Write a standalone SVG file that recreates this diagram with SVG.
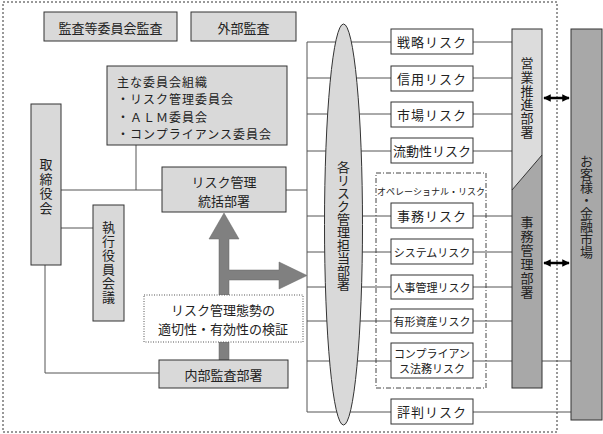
<svg xmlns="http://www.w3.org/2000/svg" width="603" height="434" viewBox="0 0 603 434">
<style>
text{font-family:"Noto Sans CJK JP","Noto Sans",sans-serif;font-size:13px;fill:#222;}
.box{fill:#d9d9d9;stroke:#333;stroke-width:1;}
.rbox{fill:#fff;stroke:#333;stroke-width:1;}
.ln{stroke:#555;stroke-width:1;fill:none;}
.c{text-anchor:middle;dominant-baseline:central;}
.v{writing-mode:vertical-rl;text-anchor:middle;}
.sm{font-size:11px;}
.li{font-size:12px;letter-spacing:1px;dominant-baseline:central;}
</style>
<defs>
<marker id="ah" viewBox="0 0 10 10" refX="9" refY="5" markerWidth="3" markerHeight="3.4" orient="auto-start-reverse">
<path d="M0,0 L10,5 L0,10 z" fill="#000"/>
</marker>
</defs>
<rect width="603" height="434" fill="#fff"/>
<!-- outer dashed border -->
<path d="M557,2 L3,2 L3,432 L557,432 L557,2" fill="none" stroke="#333" stroke-width="1" stroke-dasharray="2,2"/>

<g id="connectors">
<path class="ln" d="M61,190 H162 M136,145 V190 M286,190 H307 M61,228 H93 M45,265 V373 H159"/>
<path class="ln" d="M307,42 V412"/>
<path class="ln" d="M307,42 H391 M473,42 H512 M307,78 H391 M473,78 H512 M307,114 H391 M473,114 H512 M307,151 H391 M473,151 H512 M307,216 H391 M473,216 H512 M307,252 H391 M473,252 H512 M307,287 H391 M473,287 H512 M307,321 H391 M473,321 H512 M307,361 H391 M473,361 H512 M542,361 H571 M307,412 H391 M473,412 H571"/>
<line x1="544" y1="98" x2="569" y2="98" stroke="#000" stroke-width="2.5" marker-start="url(#ah)" marker-end="url(#ah)"/>
<line x1="544" y1="263" x2="569" y2="263" stroke="#000" stroke-width="2.5" marker-start="url(#ah)" marker-end="url(#ah)"/>
<polygon points="219,360 219,239 209,239 224,213 239,239 229,239 229,270 279,270 279,262 307,275.5 279,289 279,280 229,280 229,360" fill="#808080" stroke="#666" stroke-width="0.5"/>
</g>

<g id="kansatou"><rect class="box" x="44" y="12" width="133" height="29"/><text class="c" x="110.5" y="27">監査等委員会監査</text></g>
<g id="gaibu"><rect class="box" x="191" y="12" width="105" height="29"/><text class="c" x="243.5" y="27">外部監査</text></g>
<g id="iinkai"><rect class="box" x="107" y="66" width="180" height="79"/>
<text class="li" x="117" y="81">主な委員会組織</text>
<text class="li" x="117" y="98.5">・リスク管理委員会</text>
<text class="li" x="117" y="116">・ＡＬＭ委員会</text>
<text class="li" x="117" y="133.5">・コンプライアンス委員会</text></g>
<g id="torishimari"><rect class="box" x="31" y="104" width="30" height="161"/><text class="v" x="46" y="187" style="letter-spacing:1.5px">取締役会</text></g>
<g id="shikkou"><rect class="box" x="93" y="205" width="31" height="116"/><text class="v" x="108.5" y="263" style="letter-spacing:1px">執行役員会議</text></g>
<g id="tokatsu"><rect class="box" x="162" y="167" width="124" height="45"/><text class="c" x="224" y="181">リスク管理</text><text class="c" x="224" y="200">統括部署</text></g>
<g id="kensho"><rect x="144" y="295" width="159" height="47" fill="#fff" stroke="#555" stroke-width="1" stroke-dasharray="1,1.5"/><text class="c" x="223" y="309">リスク管理態勢の</text><text class="c" x="223" y="328">適切性・有効性の検証</text></g>
<g id="naibu"><rect class="box" x="159" y="360" width="129" height="28"/><text class="c" x="223.5" y="374">内部監査部署</text></g>

<g id="tanto"><ellipse cx="343.5" cy="224.5" rx="19" ry="200.5" fill="#d9d9d9" stroke="#333" stroke-width="1"/><text class="v" x="343.5" y="226">各リスク管理担当部署</text></g>

<g id="operational"><rect x="376" y="173" width="110" height="215" fill="none" stroke="#444" stroke-width="1" stroke-dasharray="5,2,1,2"/><text class="c" x="431" y="191" style="font-size:9px">オペレーショナル・リスク</text></g>

<g id="senryaku"><rect class="rbox" x="391" y="29" width="82" height="25"/><text class="c" x="432" y="41.5" style="letter-spacing:1px">戦略リスク</text></g>
<g id="shinyo"><rect class="rbox" x="391" y="66" width="82" height="25"/><text class="c" x="432" y="78.5" style="letter-spacing:1px">信用リスク</text></g>
<g id="shijo"><rect class="rbox" x="391" y="102" width="82" height="25"/><text class="c" x="432" y="114.5" style="letter-spacing:1px">市場リスク</text></g>
<g id="ryudo"><rect class="rbox" x="391" y="138" width="82" height="25"/><text class="c" x="432" y="150.5">流動性リスク</text></g>
<g id="jimu"><rect class="rbox" x="391" y="203" width="82" height="25"/><text class="c" x="432" y="215.5" style="letter-spacing:1px">事務リスク</text></g>
<g id="system"><rect class="rbox" x="391" y="239" width="82" height="25"/><text class="c sm" x="432" y="251.5">システムリスク</text></g>
<g id="jinji"><rect class="rbox" x="391" y="275" width="82" height="24"/><text class="c sm" x="432" y="287">人事管理リスク</text></g>
<g id="yukei"><rect class="rbox" x="391" y="309" width="82" height="24"/><text class="c sm" x="432" y="321">有形資産リスク</text></g>
<g id="compliance"><rect class="rbox" x="391" y="343" width="82" height="35"/><text class="c sm" x="432" y="353">コンプライアン</text><text class="c sm" x="432" y="368">ス法務リスク</text></g>
<g id="hyoban"><rect class="rbox" x="391" y="399" width="82" height="25"/><text class="c" x="432" y="411.5" style="letter-spacing:1px">評判リスク</text></g>

<g id="eigyo-jimu">
<polygon points="512,29 542,29 542,155 512,190" fill="#dcdcdc"/>
<polygon points="512,190 542,155 542,388 512,388" fill="#a8a8a8"/>
<rect x="512" y="29" width="30" height="359" fill="none" stroke="#333" stroke-width="1"/>
<line x1="512" y1="190" x2="542" y2="155" stroke="#333" stroke-width="1"/>
<text class="v" x="527" y="98" style="letter-spacing:0.8px">営業推進部署</text>
<text class="v" x="527" y="258" style="letter-spacing:1px">事務管理部署</text>
</g>
<g id="customer"><rect x="571" y="29" width="31" height="391" fill="#a8a8a8" stroke="#333" stroke-width="1"/><text class="v" x="586.5" y="207">お客様・金融市場</text></g>
</svg>
